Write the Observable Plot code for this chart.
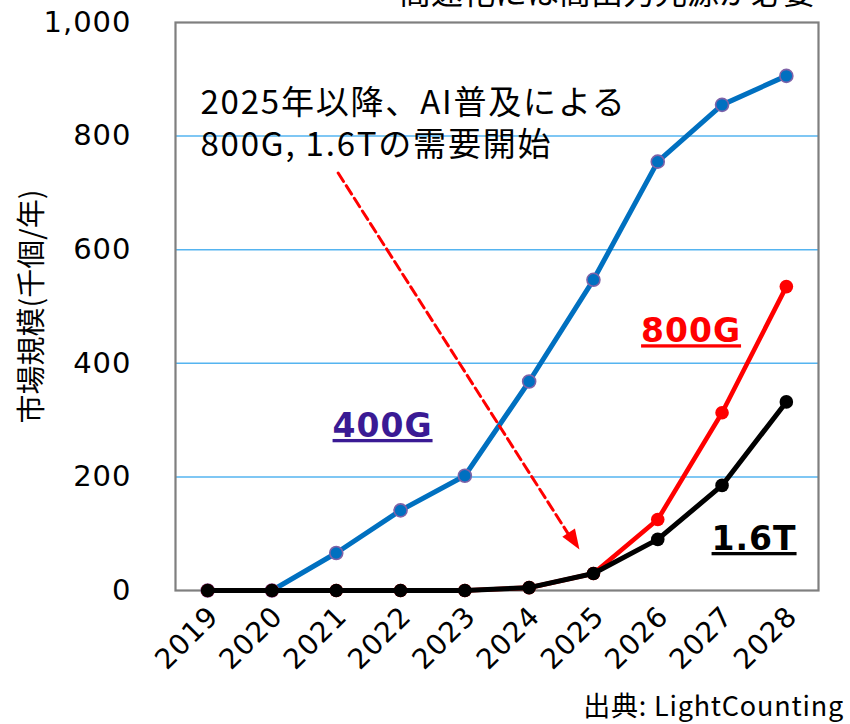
<!DOCTYPE html>
<html>
<head>
<meta charset="utf-8">
<script src="https://cdn.jsdelivr.net/npm/d3@7"></script>
<script src="https://cdn.jsdelivr.net/npm/@observablehq/plot@0.6"></script>
<style>
  html, body { margin: 0; padding: 0; background: #fff; }
  #wrap { width: 850px; height: 724px; position: relative; overflow: hidden; }
  #title { position: relative; height: 12px; overflow: hidden; }
  #title div { position: absolute; right: 35px; top: -26px; font: 32px/32px "Noto Sans CJK JP"; color: #000; white-space: nowrap; }
  #caption { height: 30px; text-align: right; padding-right: 6px; font: 27px/30px "Noto Sans CJK JP"; letter-spacing: 0.8px; color: #000; white-space: nowrap; }
</style>
</head>
<body>
<div id="wrap">
  <div id="title"><div>高速化には高出力光源が必要</div></div>
  <div id="chart"></div>
  <div id="caption">出典: LightCounting</div>
</div>
<script>
const years = [2019, 2020, 2021, 2022, 2023, 2024, 2025, 2026, 2027, 2028];
const values400G = [0, 0, 66, 141, 202, 368, 547, 755, 855, 906];
const values800G = [0, 0, 0, 0, 0, 5, 30, 125, 313, 535];
const values16T  = [0, 0, 0, 0, 0, 5, 30, 90, 185, 332];
const yTicks = [0, 200, 400, 600, 800, 1000];
const gridValues = [200, 400, 600, 800];
const yLabel = "市場規模(千個/年)";
const noteLines = ["2025年以降、AI普及による", "800G, 1.6Tの需要開始"];

const rows = (vals) => years.map((x, i) => ({x, y: vals[i]}));
const d400 = rows(values400G), d800 = rows(values800G), d16 = rows(values16T);

// arrow: from below the note toward the 2025 point
const arrowStart = {x: years[2] + 0.03, y: 735};
const arrowEnd = {x: years[6], y: values16T[6]};

const JP = "Noto Sans CJK JP";
const NUM = "DejaVu Sans";

const noteMark = (line, dy) => Plot.text([line], {frameAnchor: "top-left", dx: 25, dy, textAnchor: "start", lineAnchor: "middle",
  fontSize: 33, fontFamily: JP, fill: "#000"});

const chart = Plot.plot({
  width: 850,
  height: 678,
  marginTop: 10,
  marginBottom: 100,
  marginLeft: 175,
  marginRight: 32,
  style: {fontFamily: NUM, fontSize: "27px", color: "#000", background: "#fff", overflow: "visible"},
  x: {type: "linear", domain: [2018.5, 2028.5]},
  y: {domain: [0, 1000]},
  marks: [
    Plot.ruleY(gridValues, {stroke: "#55b4f0", strokeWidth: 1.5}),
    Plot.frame({stroke: "#7f7f7f", strokeWidth: 2.2}),
    Plot.axisY(yTicks, {tickSize: 0, tickPadding: 44, tickFormat: d3.format(","), fontSize: 29, fontFamily: NUM, label: null, ariaLabel: "y-axis"}),
    Plot.axisX(years, {tickSize: 0, tickPadding: 21, dx: 6, tickRotate: -45, tickFormat: d => String(d), fontSize: 28, fontFamily: NUM, label: null, ariaLabel: "x-axis"}),
    Plot.text([yLabel], {frameAnchor: "left", textAnchor: "middle", rotate: -90, dx: -143, fontSize: 29, fontFamily: JP, fill: "#000"}),
    // 400G
    Plot.line(d400, {x: "x", y: "y", stroke: "#0070C0", strokeWidth: 5}),
    Plot.dot(d400, {x: "x", y: "y", r: 6.5, fill: "#0070C0", stroke: "#7f62a8", strokeWidth: 1.6}),
    // 800G
    Plot.line(d800, {x: "x", y: "y", stroke: "#FF0000", strokeWidth: 4.6}),
    Plot.dot(d800, {x: "x", y: "y", r: 6.8, fill: "#FF0000"}),
    // 1.6T
    Plot.line(d16, {x: "x", y: "y", stroke: "#000", strokeWidth: 5}),
    Plot.dot(d16, {x: "x", y: "y", r: 6.8, fill: "#000"}),
    // dashed arrow
    Plot.arrow([{}], {x1: () => arrowStart.x, y1: () => arrowStart.y, x2: () => arrowEnd.x, y2: () => arrowEnd.y,
      stroke: "#FF0000", strokeWidth: 3, strokeDasharray: "10,5", headLength: 0, insetEnd: 44}),
    Plot.vector([{}], {x: () => arrowEnd.x, y: () => arrowEnd.y, dx: -14, dy: -24, anchor: "end", length: 20, rotate: 147.3, r: 7.5,
      fill: "#FF0000", stroke: "none",
      shape: {draw(ctx, l, r) { ctx.moveTo(0, -l); ctx.lineTo(-r, 0); ctx.lineTo(r, 0); ctx.closePath(); }}}),
    // note (two lines)
    noteMark(noteLines[0], 81),
    noteMark(noteLines[1], 123),
    // series labels
    Plot.text([{x: years[3], y: values400G[3], t: "400G"}], {x: "x", y: "y", text: "t", dx: -18, dy: -84, fontSize: 33, fontWeight: "bold", fontFamily: NUM, fill: "#3a1a94"}),
    Plot.text([{x: years[8], y: values800G[8], t: "800G"}], {x: "x", y: "y", text: "t", dx: -31, dy: -81, fontSize: 33, fontWeight: "bold", fontFamily: NUM, fill: "#FF0000"}),
    Plot.text([{x: years[8], y: values16T[8], t: "1.6T"}], {x: "x", y: "y", text: "t", dx: 32, dy: 54, fontSize: 33, fontWeight: "bold", fontFamily: NUM, fill: "#000"})
  ]
});
const svg = d3.select(chart);
svg.selectAll("text").filter(function() { return ["400G", "800G", "1.6T"].includes(this.textContent); })
  .attr("text-decoration", "underline").style("text-decoration", "underline").style("letter-spacing", "1px");
svg.selectAll("text").filter(function() { return noteLines.includes(this.textContent); }).style("letter-spacing", "1.8px");
svg.selectAll("text").filter(function() { return /^[0-9,]+$/.test(this.textContent); }).style("letter-spacing", "1px");
document.getElementById("chart").appendChild(chart);
</script>
</body>
</html>
